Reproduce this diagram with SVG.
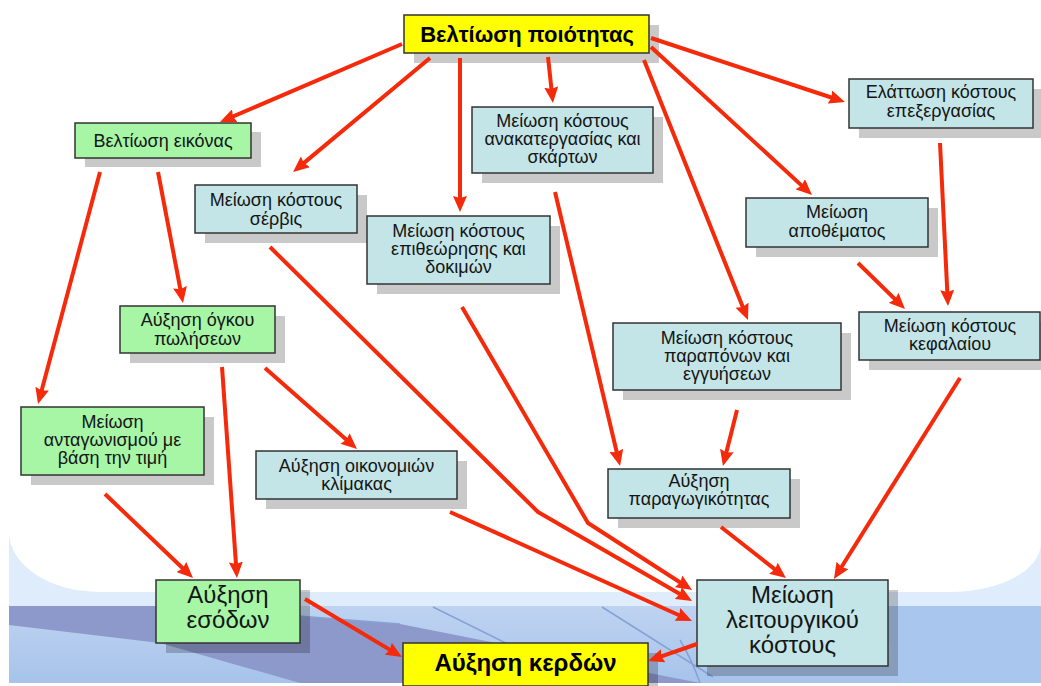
<svg xmlns="http://www.w3.org/2000/svg" width="1041" height="686" viewBox="0 0 1041 686">
  <defs>
    <style>
      .sh { fill: #000; fill-opacity: 0.21; }
      .box { stroke: #333; stroke-width: 1.5; }
      .yel { fill: #ffff00; }
      .grn { fill: #a6f6a6; }
      .blu { fill: #c3e5e7; }
      .t { font-family: "Liberation Sans", Arial, sans-serif; font-size: 18px; fill: #151515; text-anchor: middle; }
      .big { font-size: 24px; }
      .b { font-weight: bold; font-size: 22px; fill: #000; }
      .b24 { font-size: 24px; }
      .edge { fill: none; stroke: #f52a0a; stroke-width: 4; stroke-linejoin: round; marker-end: url(#arr); }
      .cable { fill: none; stroke: #86a2d4; stroke-width: 1.5; }
    </style>
    <marker id="arr" viewBox="0 0 16 14" refX="8" refY="7" markerWidth="16" markerHeight="14" markerUnits="userSpaceOnUse" orient="auto">
      <path d="M0,0 L16,7 L0,14 L2,7 Z" fill="#f52a0a"/>
    </marker>
    <linearGradient id="sky" x1="0" y1="0" x2="0" y2="1">
      <stop offset="0" stop-color="#bed3f1"/>
      <stop offset="1" stop-color="#a7c3eb"/>
    </linearGradient>
  </defs>

  <!-- page and backdrop -->
  <rect width="1041" height="686" fill="#fff"/>
  <rect x="9" y="480" width="1032" height="203" fill="#dfecfb"/>
  <rect x="9" y="606" width="1032" height="77" fill="url(#sky)"/>
  <polygon points="9,606 170,606 400,624 700,683 300,683 160,643 9,625" fill="#8d98cb"/>
  <polygon points="880,606 1041,606 1041,683 900,683" fill="#a9c7ee"/>
  <path class="cable" d="M433,607 L520,650 M602,607 L713,677 M680,640 Q692,660 700,683 M170,606 L400,624"/>
  <path d="M9,0 H1041 V543 A91,49 0 0 1 950,592 H100 A91,60 0 0 1 9,532 Z" fill="#fff"/>

  <!-- nodes -->
  <g id="n-quality">
    <rect class="sh" x="414" y="25" width="245" height="38"/>
    <rect class="box yel" x="404" y="15" width="245" height="38"/>
    <text class="t b" x="527" y="42">Βελτίωση ποιότητας</text>
  </g>
  <g id="n-image">
    <rect class="sh" x="85" y="132" width="176" height="35"/>
    <rect class="box grn" x="75" y="123" width="176" height="35"/>
    <text class="t" x="163" y="147">Βελτίωση εικόνας</text>
  </g>
  <g id="n-service">
    <rect class="sh" x="205" y="195" width="162" height="48"/>
    <rect class="box blu" x="195" y="185" width="162" height="48"/>
    <text class="t" x="276" y="206">Μείωση κόστους<tspan x="276" y="225">σέρβις</tspan></text>
  </g>
  <g id="n-inspection">
    <rect class="sh" x="377" y="226" width="183" height="68"/>
    <rect class="box blu" x="367" y="216" width="183" height="68"/>
    <text class="t" x="458.5" y="237">Μείωση κόστους<tspan x="458.5" y="255">επιθεώρησης και</tspan><tspan x="458.5" y="273">δοκιμών</tspan></text>
  </g>
  <g id="n-rework">
    <rect class="sh" x="482" y="117" width="181" height="66"/>
    <rect class="box blu" x="472" y="107" width="181" height="66"/>
    <text class="t" x="562.5" y="127">Μείωση κόστους<tspan x="562.5" y="145">ανακατεργασίας και</tspan><tspan x="562.5" y="163">σκάρτων</tspan></text>
  </g>
  <g id="n-processing">
    <rect class="sh" x="859" y="89" width="184" height="49"/>
    <rect class="box blu" x="849" y="79" width="184" height="49"/>
    <text class="t" x="941" y="98">Ελάττωση κόστους<tspan x="941" y="117">επεξεργασίας</tspan></text>
  </g>
  <g id="n-inventory">
    <rect class="sh" x="756" y="208" width="182" height="49"/>
    <rect class="box blu" x="746" y="198" width="182" height="49"/>
    <text class="t" x="837" y="218">Μείωση<tspan x="837" y="237">αποθέματος</tspan></text>
  </g>
  <g id="n-capital">
    <rect class="sh" x="869" y="322" width="181" height="48"/>
    <rect class="box blu" x="859" y="312" width="181" height="48"/>
    <text class="t" x="950" y="332">Μείωση κόστους<tspan x="950" y="350">κεφαλαίου</tspan></text>
  </g>
  <g id="n-complaints">
    <rect class="sh" x="623" y="333" width="228" height="67"/>
    <rect class="box blu" x="613" y="323" width="228" height="67"/>
    <text class="t" x="727" y="344">Μείωση κόστους<tspan x="727" y="362">παραπόνων και</tspan><tspan x="727" y="380">εγγυήσεων</tspan></text>
  </g>
  <g id="n-productivity">
    <rect class="sh" x="618" y="479" width="182" height="49"/>
    <rect class="box blu" x="608" y="469" width="182" height="49"/>
    <text class="t" x="699" y="487">Αύξηση<tspan x="699" y="505">παραγωγικότητας</tspan></text>
  </g>
  <g id="n-volume">
    <rect class="sh" x="130" y="316" width="155" height="47"/>
    <rect class="box grn" x="120" y="306" width="155" height="47"/>
    <text class="t" x="197.5" y="326">Αύξηση όγκου<tspan x="197.5" y="345">πωλήσεων</tspan></text>
  </g>
  <g id="n-competition">
    <rect class="sh" x="31" y="417" width="183" height="68"/>
    <rect class="box grn" x="21" y="407" width="183" height="68"/>
    <text class="t" x="112.5" y="428">Μείωση<tspan x="112.5" y="446">ανταγωνισμού με</tspan><tspan x="112.5" y="464">βάση την τιμή</tspan></text>
  </g>
  <g id="n-scale">
    <rect class="sh" x="266" y="461" width="201" height="48"/>
    <rect class="box blu" x="256" y="451" width="201" height="48"/>
    <text class="t" x="356.5" y="472">Αύξηση οικονομιών<tspan x="356.5" y="490">κλίμακας</tspan></text>
  </g>
  <g id="n-revenue">
    <rect class="sh" x="166" y="590" width="144" height="63"/>
    <rect class="box grn" x="156" y="580" width="144" height="63"/>
    <text class="t big" x="228" y="603">Αύξηση<tspan x="228" y="628">εσόδων</tspan></text>
  </g>
  <g id="n-opcost">
    <rect class="sh" x="707" y="590" width="191" height="86"/>
    <rect class="box blu" x="697" y="580" width="191" height="86"/>
    <text class="t big" x="792.5" y="603">Μείωση<tspan x="792.5" y="628">λειτουργικού</tspan><tspan x="792.5" y="653">κόστους</tspan></text>
  </g>
  <g id="n-profit">
    <rect class="sh" x="413" y="653" width="245" height="43"/>
    <rect class="box yel" x="403" y="643" width="245" height="43"/>
    <text class="t b b24" x="525.5" y="671">Αύξηση κερδών</text>
  </g>

  <!-- connectors -->
  <g id="connectors">
    <path class="edge" d="M402,44 L227.4,118.9"/>
    <path class="edge" d="M430,58 L299.2,166.9"/>
    <path class="edge" d="M460,58 L460,204"/>
    <path class="edge" d="M548,57 L552.1,95"/>
    <path class="edge" d="M644,60 L745,312.6"/>
    <path class="edge" d="M651,47 L806.1,189.6"/>
    <path class="edge" d="M651,38 L837.4,99.5"/>
    <path class="edge" d="M100,172 L40.1,396.3"/>
    <path class="edge" d="M158,172 L181.5,295.1"/>
    <path class="edge" d="M222,367 L236.4,570"/>
    <path class="edge" d="M265,368 L351,443.7"/>
    <path class="edge" d="M105,494 L187.2,572.5"/>
    <path class="edge" d="M555,192 L618.2,458.2"/>
    <path class="edge" d="M737,410 L724.9,458.2"/>
    <path class="edge" d="M858,263 L899.3,303.4"/>
    <path class="edge" d="M940,143 L947.6,298"/>
    <path class="edge" d="M960,378 L838.2,572.2"/>
    <path class="edge" d="M721,527 L779.7,573.1"/>
    <path class="edge" d="M270,247 L538,512 L685.1,597"/>
    <path class="edge" d="M462,307 L588,523 L685.3,585.7"/>
    <path class="edge" d="M450,512 L684.7,617.7"/>
    <path class="edge" d="M697,644 L655.6,658.4"/>
    <path class="edge" d="M305,599 L395.1,652.9"/>
  </g>
</svg>
